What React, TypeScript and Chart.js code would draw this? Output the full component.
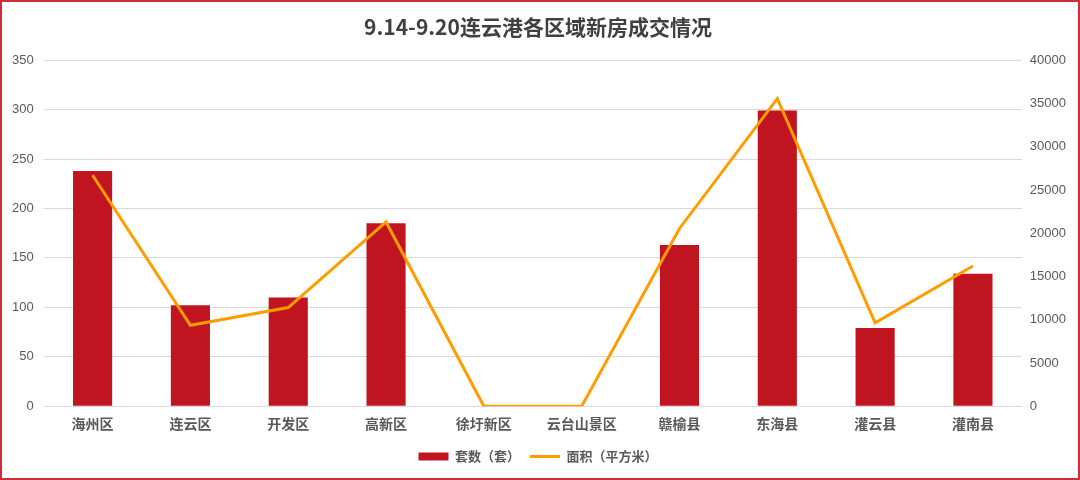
import React, { useEffect, useRef } from "react";
import { Chart, registerables } from "chart.js";

Chart.register(...registerables);

const TITLE = "9.14-9.20连云港各区域新房成交情况";
const categories = ["海州区", "连云区", "开发区", "高新区", "徐圩新区", "云台山景区", "赣榆县", "东海县", "灌云县", "灌南县"];
const unitsLabel = "套数（套）";
const areaLabel = "面积（平方米）";
const units = [238, 102, 110, 185, 0, 0, 163, 299, 79, 134];
const area = [26700, 9360, 11400, 21300, 0, 0, 20550, 35550, 9630, 16200];

const CJK = "'Noto Sans CJK SC', 'Microsoft YaHei', sans-serif";
const NUM = "'Liberation Sans', Arial, sans-serif";

export default function App() {
  const ref = useRef<HTMLCanvasElement>(null);

  useEffect(() => {
    if (!ref.current) return;
    const chart = new Chart(ref.current, {
      type: "bar",
      data: {
        labels: categories,
        datasets: [
          {
            type: "bar",
            label: unitsLabel,
            data: units,
            backgroundColor: "#c01421",
            borderWidth: 0,
            barPercentage: 0.4,
            categoryPercentage: 1,
            yAxisID: "y",
            order: 1,
            pointStyle: "rect",
          } as any,
          {
            type: "line",
            label: areaLabel,
            data: area,
            borderColor: "#ff9c00",
            backgroundColor: "#ff9c00",
            borderWidth: 3,
            pointRadius: 0,
            tension: 0,
            yAxisID: "y1",
            order: 0,
            pointStyle: "line",
          } as any,
        ],
      },
      options: {
        animation: false,
        responsive: true,
        maintainAspectRatio: false,
        layout: { padding: { left: 0, right: 4, top: 0, bottom: 5 } },
        plugins: {
          title: {
            display: true,
            text: TITLE,
            color: "#404040",
            font: { family: CJK, size: 21, weight: "bold" },
            padding: { top: 12, bottom: 21 },
          },
          legend: {
            position: "bottom",
            labels: {
              usePointStyle: true,
              pointStyleWidth: 30,
              boxHeight: 8,
              color: "#595959",
              font: { family: CJK, size: 13, weight: "bold" },
              padding: 10,
              sort: (a: any, b: any) => a.datasetIndex - b.datasetIndex,
            },
          },
          tooltip: { enabled: false },
        },
        scales: {
          x: {
            grid: { display: false },
            border: { display: false },
            ticks: {
              color: "#595959",
              font: { family: CJK, size: 14, weight: "bold" },
              padding: 1,
              maxRotation: 0,
              autoSkip: false,
            },
            afterFit: (scale: any) => {
              scale.height += 7;
            },
          },
          y: {
            position: "left",
            min: 0,
            max: 350,
            ticks: {
              stepSize: 50,
              color: "#595959",
              font: { family: NUM, size: 13 },
              padding: 10,
            },
            grid: { color: "#d9d9d9", lineWidth: 1, drawTicks: false },
            border: { display: false },
          },
          y1: {
            position: "right",
            min: 0,
            max: 40000,
            ticks: {
              stepSize: 5000,
              color: "#595959",
              font: { family: NUM, size: 13 },
              padding: 8,
              callback: (v: any) => String(v),
            },
            grid: { display: false, drawTicks: false },
            border: { display: false },
          },
        },
      },
    });
    return () => chart.destroy();
  }, []);

  return (
    <div
      style={{
        position: "fixed",
        left: 0,
        top: 0,
        width: 1080,
        height: 480,
        boxSizing: "border-box",
        border: "2px solid #d42a3a",
        background: "#fff",
      }}
    >
      <canvas ref={ref} />
    </div>
  );
}
